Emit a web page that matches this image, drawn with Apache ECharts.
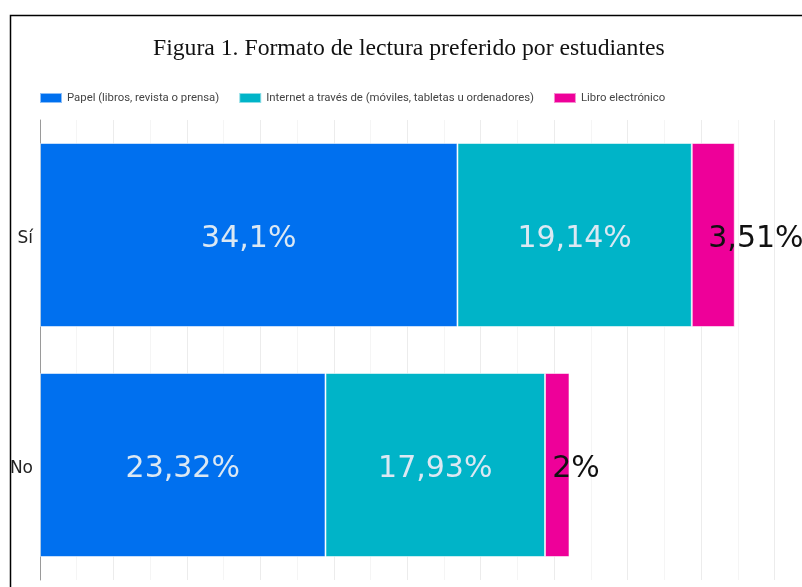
<!DOCTYPE html>
<html>
<head>
<meta charset="utf-8">
<script src="https://cdn.jsdelivr.net/npm/echarts@6/dist/echarts.min.js"></script>
<style>
	html, body { margin: 0; padding: 0; background: #fff; }
	#chartDiv { width: 802px; height: 587px; }
</style>
</head>
<body>
<div id="chartDiv"></div>
<script>
var categories = ['Sí', 'No'];
var seriesNames = ['Papel (libros, revista o prensa)', 'Internet a través de (móviles, tabletas u ordenadores)', 'Libro electrónico'];
var papel = [34.1, 23.32];
var internet = [19.14, 17.93];
var libro = [3.51, 2];

var colors = ['#0070ef', '#00b4c8', '#ee0099'];

function pct(p) {
	return String(p.value).replace('.', ',') + '%';
}

var chart = echarts.init(document.getElementById('chartDiv'));

function makeSeries(name, data, i) {
	var dark = (i == 2);
	return {
		name: name,
		type: 'bar',
		stack: 'total',
		data: data,
		barCategoryGap: '20%',
		itemStyle: {
			color: colors[i],
			borderColor: 'rgba(255,255,255,0.55)',
			borderWidth: 1
		},
		label: {
			show: true,
			position: 'inside',
			align: dark ? 'left' : 'center',
			offset: dark ? [-5, 4] : [0, 4],
			formatter: pct,
			fontFamily: 'DejaVu Sans',
			fontSize: 30,
			color: dark ? '#111111' : '#dbe8f3'
		},
		animation: false
	};
}

var option = {
	backgroundColor: '#ffffff',
	title: {
		text: 'Figura 1. Formato de lectura preferido por estudiantes',
		left: 148,
		top: 32,
		textStyle: {
			fontFamily: 'Liberation Serif',
			fontWeight: 'normal',
			fontSize: 23.7,
			color: '#111111'
		}
	},
	legend: {
		left: 34,
		top: 87,
		itemWidth: 22,
		itemHeight: 10,
		itemGap: 19,
		icon: 'rect',
		textStyle: {
			fontFamily: 'Roboto',
			fontSize: 11.35,
			color: '#444444'
		},
		data: seriesNames
	},
	grid: {
		left: 40,
		top: 120,
		width: 808,
		height: 460,
		outerBoundsMode: 'none',
		containLabel: false
	},
	xAxis: {
		type: 'value',
		min: 0,
		max: 66,
		interval: 6,
		axisLine: { show: false },
		axisTick: { show: false },
		axisLabel: { show: false },
		splitLine: { show: true, lineStyle: { color: '#ececec', width: 1 } },
		minorTick: { show: false, splitNumber: 2 },
		minorSplitLine: { show: true, lineStyle: { color: '#f5f5f5', width: 1 } }
	},
	yAxis: {
		type: 'category',
		data: categories,
		inverse: true,
		axisLine: { show: true, lineStyle: { color: '#9a9a9a', width: 1 } },
		axisTick: { show: false },
		axisLabel: {
			margin: 7,
			formatter: '{c|{value}}',
			rich: {
				c: {
					padding: [7, 0, 0, 0],
					fontFamily: 'DejaVu Sans',
					fontSize: 17,
					color: '#222222'
				}
			}
		}
	},
	series: [
		makeSeries(seriesNames[0], papel, 0),
		makeSeries(seriesNames[1], internet, 1),
		makeSeries(seriesNames[2], libro, 2)
	],
	graphic: [{
		type: 'rect',
		left: 8,
		top: 13,
		shape: { width: 900, height: 700 },
		style: { fill: 'none', stroke: '#000000', lineWidth: 1.5 },
		silent: true
	}]
};

chart.setOption(option);
</script>
</body>
</html>
